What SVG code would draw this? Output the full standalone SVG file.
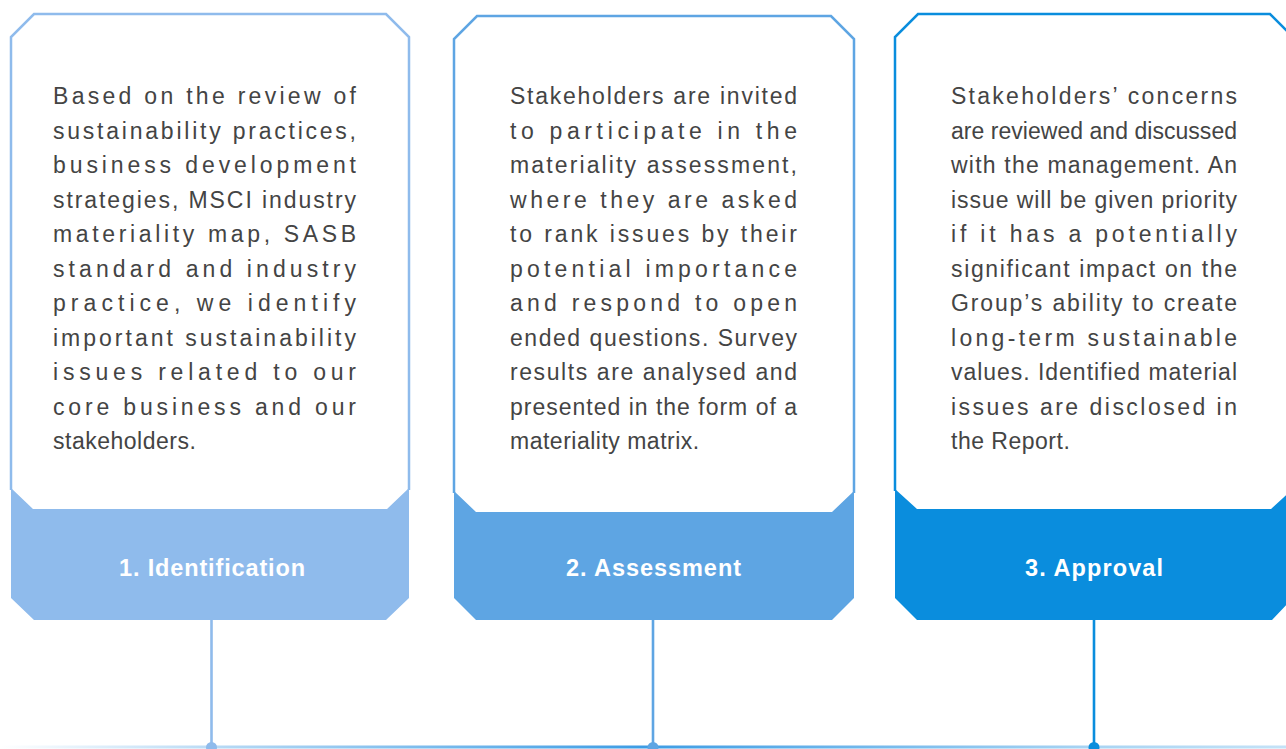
<svg xmlns="http://www.w3.org/2000/svg" width="1286" height="749" viewBox="0 0 1286 749">
  <defs>
    <linearGradient id="baseLine" x1="0" y1="0" x2="1286" y2="0" gradientUnits="userSpaceOnUse">
      <stop offset="0" stop-color="#ffffff"/>
      <stop offset="0.18" stop-color="#b3d7f4"/>
      <stop offset="0.5" stop-color="#3d9ce4"/>
      <stop offset="0.85" stop-color="#a9d4f3"/>
      <stop offset="1" stop-color="#c4e2f7"/>
    </linearGradient>
  </defs>
  <style>
    .body { font-family: "Liberation Sans", Arial, sans-serif; font-size: 23px; fill: #444444; }
    .last { letter-spacing: 0.5px; }
    .label { font-family: "Liberation Sans", Arial, sans-serif; font-size: 23.5px; font-weight: bold; fill: #ffffff; text-anchor: middle; }
    .frame { fill: #ffffff; stroke-width: 2.5; stroke-linejoin: miter; }
    .stem { stroke-width: 2.6; fill: none; }
  </style>
  <rect width="1286" height="749" fill="#ffffff"/>

  <!-- connectors: stems from each card down to the baseline -->
  <g id="connectors">
    <line x1="0" y1="747" x2="1286" y2="747" stroke="url(#baseLine)" stroke-width="3"/>
    <line class="stem" x1="211.5" y1="620" x2="211.5" y2="747" stroke="#8fbbec"/>
    <line class="stem" x1="653" y1="620" x2="653" y2="747" stroke="#5ea5e3"/>
    <line class="stem" x1="1094" y1="620" x2="1094" y2="747" stroke="#0a8ddd"/>
    <circle cx="211.5" cy="747.5" r="5.5" fill="#8fbbec"/>
    <circle cx="653" cy="747.5" r="5.5" fill="#5ea5e3"/>
    <circle cx="1094" cy="747.5" r="5.5" fill="#0a8ddd"/>
  </g>

  <!-- step 1 -->
  <g id="step-identification">
    <path class="frame" stroke="#8fbbec" d="M11,490 L11,37 L34,14 L386,14 L409,37 L409,490"/>
    <path fill="#8fbbec" d="M11,488 L33,509 L387,509 L409,488 L409,598 L386,620 L34,620 L11,598 Z"/>
    <g class="body">
      <text x="53" y="104" textLength="303" lengthAdjust="spacing">Based on the review of</text>
      <text x="53" y="138.5" textLength="303" lengthAdjust="spacing">sustainability practices,</text>
      <text x="53" y="173" textLength="303" lengthAdjust="spacing">business development</text>
      <text x="53" y="207.5" textLength="303" lengthAdjust="spacing">strategies, MSCI industry</text>
      <text x="53" y="242" textLength="303" lengthAdjust="spacing">materiality map, SASB</text>
      <text x="53" y="276.5" textLength="303" lengthAdjust="spacing">standard and industry</text>
      <text x="53" y="311" textLength="303" lengthAdjust="spacing">practice, we identify</text>
      <text x="53" y="345.5" textLength="303" lengthAdjust="spacing">important sustainability</text>
      <text x="53" y="380" textLength="303" lengthAdjust="spacing">issues related to our</text>
      <text x="53" y="414.5" textLength="303" lengthAdjust="spacing">core business and our</text>
      <text x="53" y="449" class="last">stakeholders.</text>
    </g>
    <text class="label" x="212" y="575.5" textLength="186" lengthAdjust="spacing">1. Identification</text>
  </g>

  <!-- step 2 -->
  <g id="step-assessment">
    <path class="frame" stroke="#5ea5e3" d="M454,493 L454,39 L477,16 L831,16 L854,39 L854,493"/>
    <path fill="#5ea5e3" d="M454,491 L476,512 L832,512 L854,491 L854,598 L832,620 L476,620 L454,598 Z"/>
    <g class="body">
      <text x="510" y="104" textLength="287" lengthAdjust="spacing">Stakeholders are invited</text>
      <text x="510" y="138.5" textLength="287" lengthAdjust="spacing">to participate in the</text>
      <text x="510" y="173" textLength="287" lengthAdjust="spacing">materiality assessment,</text>
      <text x="510" y="207.5" textLength="287" lengthAdjust="spacing">where they are asked</text>
      <text x="510" y="242" textLength="287" lengthAdjust="spacing">to rank issues by their</text>
      <text x="510" y="276.5" textLength="287" lengthAdjust="spacing">potential importance</text>
      <text x="510" y="311" textLength="287" lengthAdjust="spacing">and respond to open</text>
      <text x="510" y="345.5" textLength="287" lengthAdjust="spacing">ended questions. Survey</text>
      <text x="510" y="380" textLength="287" lengthAdjust="spacing">results are analysed and</text>
      <text x="510" y="414.5" textLength="287" lengthAdjust="spacing">presented in the form of a</text>
      <text x="510" y="449" class="last">materiality matrix.</text>
    </g>
    <text class="label" x="653.5" y="575.5" textLength="175" lengthAdjust="spacing">2. Assessment</text>
  </g>

  <!-- step 3 -->
  <g id="step-approval">
    <path class="frame" stroke="#0a8ddd" d="M895,491 L895,37 L918,14 L1270,14 L1293,37 L1293,491"/>
    <path fill="#0a8ddd" d="M895,489 L917,509 L1271,509 L1293,489 L1293,598 L1272,620 L917,620 L895,598 Z"/>
    <g class="body">
      <text x="951" y="104" textLength="286" lengthAdjust="spacing">Stakeholders’ concerns</text>
      <text x="951" y="138.5" textLength="286" lengthAdjust="spacing">are reviewed and discussed</text>
      <text x="951" y="173" textLength="286" lengthAdjust="spacing">with the management. An</text>
      <text x="951" y="207.5" textLength="286" lengthAdjust="spacing">issue will be given priority</text>
      <text x="951" y="242" textLength="286" lengthAdjust="spacing">if it has a potentially</text>
      <text x="951" y="276.5" textLength="286" lengthAdjust="spacing">significant impact on the</text>
      <text x="951" y="311" textLength="286" lengthAdjust="spacing">Group’s ability to create</text>
      <text x="951" y="345.5" textLength="286" lengthAdjust="spacing">long-term sustainable</text>
      <text x="951" y="380" textLength="286" lengthAdjust="spacing">values. Identified material</text>
      <text x="951" y="414.5" textLength="286" lengthAdjust="spacing">issues are disclosed in</text>
      <text x="951" y="449" class="last">the Report.</text>
    </g>
    <text class="label" x="1094" y="575.5" textLength="138" lengthAdjust="spacing">3. Approval</text>
  </g>
</svg>
